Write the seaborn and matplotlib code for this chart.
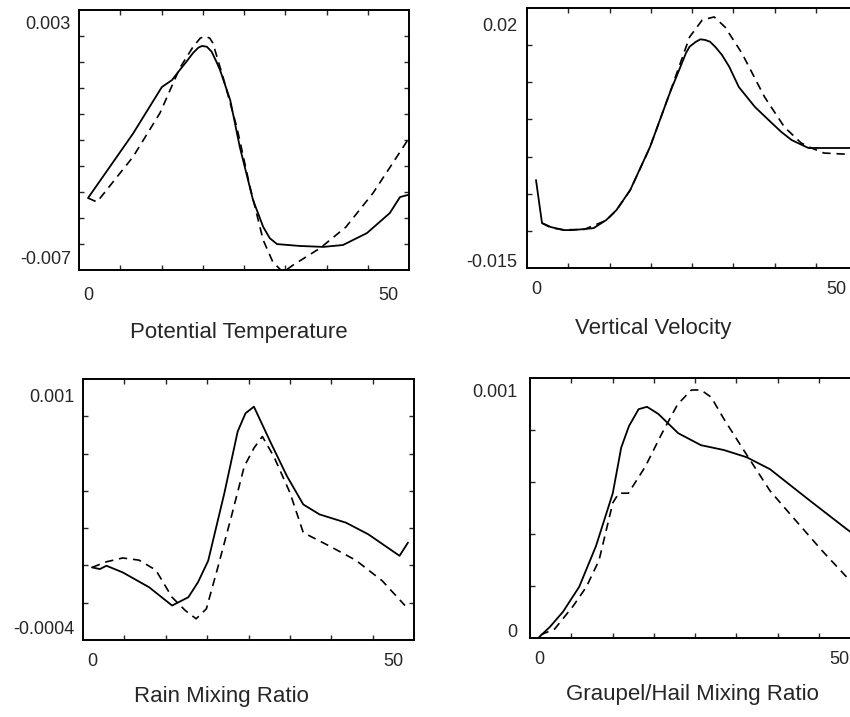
import numpy as np
import matplotlib
matplotlib.use("Agg")
import matplotlib.pyplot as plt
from matplotlib.ticker import FixedLocator
import seaborn as sns

# --- valores ---
theta_x_solid = [0, 7.5, 12.3, 14, 15.3, 16.4, 17.5, 18.4, 19, 19.8, 20.6, 21.4, 22, 23.7,
                 25.3, 27.5, 29.2, 30.3, 31.5, 35.3, 39.2, 42.5, 46.5, 50.3, 52, 53.3]
theta_solid = [-0.00449, -0.00175, 0.00023, 0.00053, 0.00096, 0.00131, 0.00168, 0.00191,
               0.00198, 0.00195, 0.00174, 0.00131, 0.00096, -0.00032, -0.00232, -0.00457,
               -0.00572, -0.0062, -0.00645, -0.00653, -0.00657, -0.00649, -0.00598,
               -0.00513, -0.00445, -0.00436]
theta_x_dash = [0, 1.5, 7.5, 12, 15.3, 17.5, 18.7, 19.5, 20.3, 20.8, 22.5, 24.8, 27, 29.2,
                30.8, 32.5, 34.2, 38.7, 43, 47.5, 50.8, 53.3]
theta_dash = [-0.00449, -0.00466, -0.00274, -0.00087, 0.00104, 0.00194, 0.00231, 0.0024,
              0.00231, 0.00211, 0.00066, -0.00147, -0.00402, -0.00628, -0.00721, -0.00765,
              -0.00734, -0.00662, -0.00572, -0.00428, -0.003, -0.00202]

w_x_solid = [0, 1, 2.5, 4.6, 5.8, 8, 9.6, 11.7, 13.4, 15.7, 19, 22.3, 25, 25.6, 26.6, 27.4,
             28.2, 29, 29.9, 31, 32.2, 33.8, 36.5, 39.3, 40.9, 42.6, 45.4, 51.7, 53.5]
w_solid = [-0.00309, -0.0095, -0.0101, -0.01054, -0.01055, -0.0104, -0.01025, -0.00905,
           -0.00757, -0.00458, 0.00183, 0.00987, 0.01583, 0.01677, 0.01747, 0.01787,
           0.01777, 0.01751, 0.01672, 0.01553, 0.01379, 0.01077, 0.00778, 0.0054, 0.00406,
           0.00287, 0.00168, 0.00168, 0.0017]
w_x_dash = [1, 2.5, 4.6, 8, 11.7, 13.4, 15.7, 19, 22.3, 25.6, 27.7, 29.7, 31.5, 34.3, 38.1,
            41.4, 44.2, 45.9, 48, 51.2, 53.5]
w_dash = [-0.0095, -0.0102, -0.0105, -0.01045, -0.0091, -0.0076, -0.0046, 0.0018, 0.0099,
          0.01821, 0.02074, 0.0212, 0.0197, 0.01583, 0.00927, 0.0048, 0.00242, 0.00168,
          0.00093, 0.00078, 0.0009]

qr_x_solid = [0, 1.3, 2.4, 5.1, 9.5, 13.3, 16, 17.6, 19.3, 22, 24.2, 25.5, 26.9, 29.6,
              32.4, 35.1, 37.8, 42.2, 45.9, 51.1, 52.5]
qr_solid = [-0.00004, -0.00005, -0.00003, -0.00007, -0.00016, -0.00027, -0.00022,
            -0.00013, 0.0, 0.00041, 0.00078, 0.00089, 0.00093, 0.00072, 0.00051,
            0.00034, 0.00028, 0.00023, 0.00016, 0.00003, 0.00011]
qr_x_dash = [0, 2.4, 5.1, 7.8, 10.6, 13.3, 15.5, 17.3, 19, 20.9, 23.1, 25.3, 26.9, 28.3,
             30.2, 32.9, 35.1, 39.4, 43.8, 48.2, 52]
qr_dash = [-0.00004, -0.000006, 0.000017, 0.000004, -0.000056, -0.00022, -0.0003,
           -0.00035, -0.00029, -0.00004, 0.00026, 0.00057, 0.00068, 0.00075, 0.00063,
           0.00041, 0.00017, 0.00009, 0.000004, -0.00012, -0.00027]

qg_x_solid = [0, 1.8, 4, 6.7, 9.5, 12.3, 13.7, 15, 16.6, 18, 19.9, 23.2, 27, 30.8, 34.6,
              38.5, 45.1, 51.3, 53.5]
qg_solid = [-0.00003, 0.0000125, 0.000076, 0.00018, 0.00035, 0.00057, 0.00076, 0.00085,
            0.00092, 0.00093, 0.0009, 0.00082, 0.00077, 0.00075, 0.00072, 0.00067,
            0.00054, 0.00042, 0.00038]
qg_x_dash = [0.3, 2.6, 5.7, 7.9, 10, 12.3, 13.3, 14.9, 17.7, 20.5, 23.1, 25.4, 27, 28.7,
             30.8, 34.1, 38.5, 42.3, 47.2, 51.3, 53.5]
qg_dash = [-0.00002, 0.000004, 0.0001, 0.00018, 0.00029, 0.00053, 0.00057, 0.00057,
           0.00068, 0.00082, 0.00094, 0.001, 0.001, 0.00097, 0.00088, 0.00075, 0.00058,
           0.00047, 0.00033, 0.00022, 0.00017]

titulos = ["Potential Temperature", "Vertical Velocity",
           "Rain Mixing Ratio", "Graupel/Hail Mixing Ratio"]
etiquetas_y = [("0.003", "-0.007"), ("0.02", "-0.015"),
               ("0.001", "-0.0004"), ("0.001", "0")]
valores_y = [(0.003, -0.007), (0.02, -0.015), (0.001, -0.0004), (0.001, 0.0)]

sns.set_theme(style="ticks")
plt.rcParams['font.family'] = ['Liberation Sans', 'DejaVu Sans']

XLIM = (-1.5, 53.5)


def dibujar_panel(ax, xs, ys, xd, yd, ylim, labels, vals, n_div, titulo,
                  tit_pos, xpad, ypad):
    sns.lineplot(x=xs, y=ys, ax=ax, color='black', lw=1.3, sort=False, estimator=None)
    sns.lineplot(x=xd, y=yd, ax=ax, color='black', lw=1.2, sort=False, estimator=None,
                 linestyle=(0, (5, 3.5)))
    ax.set_xlim(*XLIM)
    ax.set_ylim(*ylim)

    ax.set_xticks([0, 50])
    ax.set_xticklabels(['0', '50'])
    ax.set_yticks(list(vals))
    ax.set_yticklabels(list(labels))
    ax.xaxis.set_minor_locator(FixedLocator(np.linspace(XLIM[0], XLIM[1], 9)[1:-1]))
    ax.yaxis.set_minor_locator(FixedLocator(np.linspace(ylim[0], ylim[1], n_div + 1)[1:-1]))

    ax.tick_params(axis='x', which='major', length=0, labelsize=13, pad=xpad)
    ax.tick_params(axis='y', which='major', length=0, labelsize=13, pad=ypad)
    ax.tick_params(which='minor', direction='in', length=3.5, width=1,
                   top=True, right=True, bottom=True, left=True)
    for s in ax.spines.values():
        s.set_visible(True)
        s.set_linewidth(1.4)
        s.set_color('black')

    ax.set_xlabel(titulo, fontsize=16)
    ax.xaxis.set_label_coords(*tit_pos)
    ax.xaxis.label.set_va('center')
    ax.set_ylabel('')


W, H = 850, 717
fig = plt.figure(figsize=(W / 100, H / 100), dpi=100)


def caja(left, top, width, height):
    return fig.add_axes([left / W, (H - top - height) / H, width / W, height / H])


ax1 = caja(79, 10, 330, 260)
ax2 = caja(527, 8, 330, 260)
ax3 = caja(83, 379, 331, 261)
ax4 = caja(530, 378, 330, 260)

dibujar_panel(ax1, theta_x_solid, theta_solid, theta_x_dash, theta_dash,
              (-0.007553, 0.003511), etiquetas_y[0], valores_y[0], 10,
              titulos[0], (0.485, -0.242), 12, 5.8)
dibujar_panel(ax2, w_x_solid, w_solid, w_x_dash, w_dash,
              (-0.01619, 0.02253), etiquetas_y[1], valores_y[1], 7,
              titulos[1], (0.382, -0.231), 9.7, 7)
dibujar_panel(ax3, qr_x_solid, qr_solid, qr_x_dash, qr_dash,
              (-0.000478, 0.001097), etiquetas_y[2], valores_y[2], 7,
              titulos[2], (0.417, -0.218), 9.7, 5.8)
dibujar_panel(ax4, qg_x_solid, qg_solid, qg_x_dash, qg_dash,
              (-0.0000333, 0.00105), etiquetas_y[3], valores_y[3], 5,
              titulos[3], (0.491, -0.219), 9.7, 9)

fig.savefig('out.png', dpi=100)
